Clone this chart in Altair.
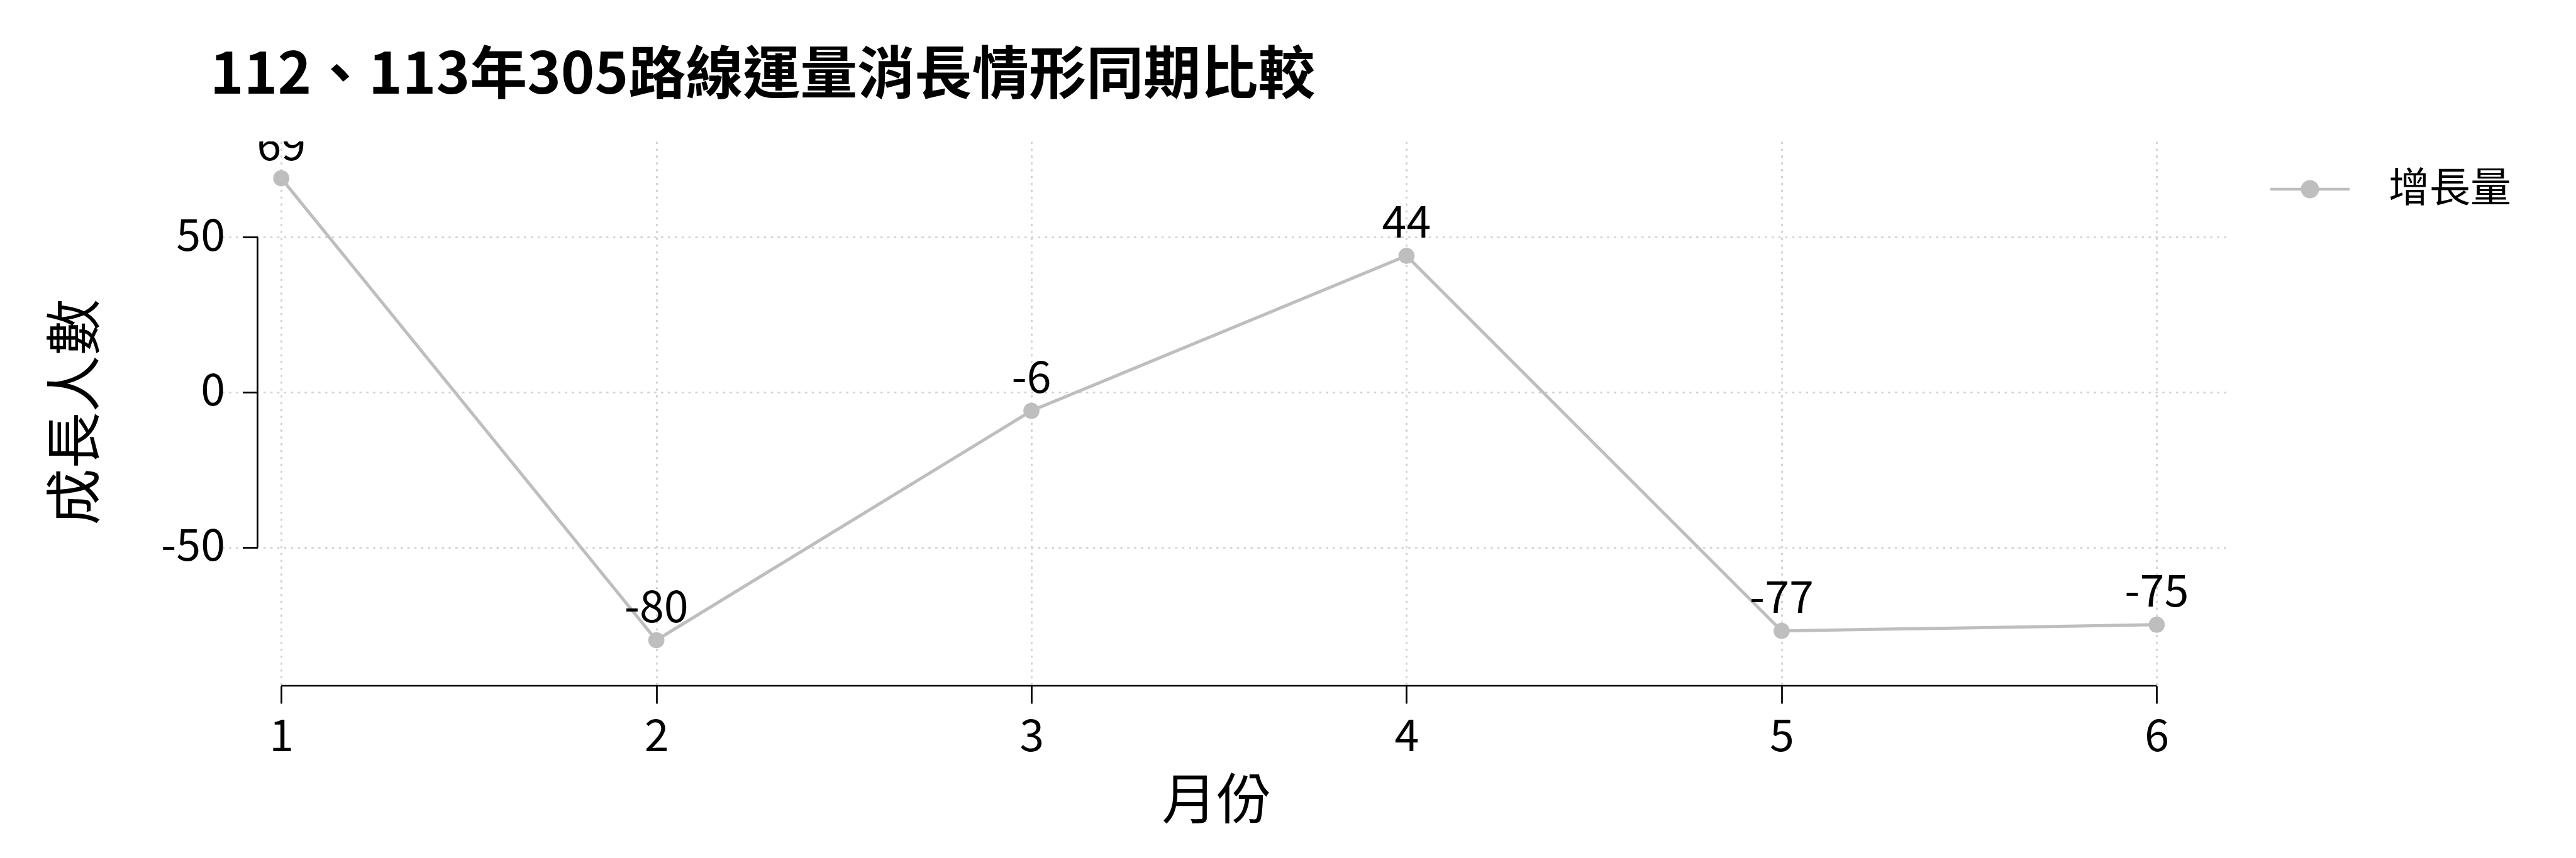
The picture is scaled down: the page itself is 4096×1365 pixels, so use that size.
import altair as alt
import pandas as pd

# ---- data ----
months = [1, 2, 3, 4, 5, 6]
growth = [69, -80, -6, 44, -77, -75]
series_name = "增長量"
x_ticks = [1, 2, 3, 4, 5, 6]
y_ticks = [-50, 0, 50]
title_text = "112、113年305路線運量消長情形同期比較"
x_title = "月份"
y_title = "成長人數"

FONT = "Noto Sans CJK TC"
COLOR = "#bebebe"
GRID = "#d0d0d0"
W, H = 3189, 866
PAD = {"left": 353, "top": 225, "right": 4096 - 353 - W, "bottom": 1365 - 225 - H}

df = pd.DataFrame({
    "month": months,
    "growth": growth,
    "label": [str(v) for v in growth],
    "series": [series_name] * len(months),
})
one = pd.DataFrame({"k": [0]})

x_scale = alt.Scale(domain=[0.842, 6.189], nice=False, zero=False)
y_scale = alt.Scale(domain=[-94.7, 80.9], nice=False, zero=False)

x_axis = alt.Axis(
    values=x_ticks, labelExpr="'' + datum.value", title=x_title,
    domain=False, grid=True, gridColor=GRID, gridDash=[3.6, 7.3], gridWidth=2.7,
    ticks=True, tickSize=28, tickWidth=2.7, tickColor="black",
    labelFont=FONT, labelFontSize=70, labelPadding=20, labelColor="black",
    titleFont=FONT, titleFontSize=87, titleFontWeight="normal", titleColor="black",
    titleX=1581, titleY=185, titleBaseline="middle", titleAlign="center",
)
y_axis = alt.Axis(
    values=y_ticks, labelExpr="'' + datum.value", title=y_title, offset=-56.5,
    domain=False, grid=True, gridColor=GRID, gridDash=[3.6, 7.3], gridWidth=2.7,
    ticks=True, tickSize=24, tickWidth=2.7, tickColor="black",
    labelFont=FONT, labelFontSize=70, labelPadding=28, labelColor="black",
    titleFont=FONT, titleFontSize=90, titleFontWeight="normal", titleColor="black",
    titleAngle=270, titleX=-287, titleY=430, titleBaseline="middle", titleAlign="center",
)

legend_symbol = (
    "M-1,-0.035H-0.225V0.035H-1Z"
    "M0.225,-0.035H1V0.035H0.225Z"
    "M0.23,0A0.23,0.23,0,1,1,-0.23,0A0.23,0.23,0,1,1,0.23,0Z"
)

base = alt.Chart(df)

line = base.mark_line(color=COLOR, strokeWidth=5).encode(
    x=alt.X("month:Q", scale=x_scale, axis=x_axis),
    y=alt.Y("growth:Q", scale=y_scale, axis=y_axis),
)

points = base.mark_circle(size=660, opacity=1).encode(
    x=alt.X("month:Q", scale=x_scale),
    y=alt.Y("growth:Q", scale=y_scale),
    color=alt.Color(
        "series:N",
        scale=alt.Scale(domain=[series_name], range=[COLOR]),
        legend=alt.Legend(
            title=None, orient="none", legendX=3257, legendY=13,
            symbolType=legend_symbol, symbolSize=15876, symbolStrokeWidth=0,
            symbolOpacity=1, labelFont=FONT, labelFontSize=65, labelColor="black",
            labelOffset=62, labelLimit=1000, padding=0,
        ),
    ),
)

labels = base.mark_text(
    dy=-29, fontSize=70, font=FONT, baseline="alphabetic", align="center",
    color="black", clip=True,
).encode(
    x=alt.X("month:Q", scale=x_scale),
    y=alt.Y("growth:Q", scale=y_scale),
    text="label:N",
)

y_spine = alt.Chart(one).mark_rule(color="black", strokeWidth=2.7).encode(
    x=alt.value(56.5),
    y=alt.datum(min(y_ticks)),
    y2=alt.datum(max(y_ticks)),
)
x_spine = alt.Chart(one).mark_rule(color="black", strokeWidth=2.7).encode(
    x=alt.datum(min(x_ticks)),
    x2=alt.datum(max(x_ticks)),
    y=alt.value(H),
)

chart = alt.layer(line, points, labels, y_spine, x_spine).properties(
    width=W, height=H,
    autosize=alt.AutoSizeParams(type="none"),
    padding=PAD,
    background="white",
    title=alt.TitleParams(
        title_text, anchor="start", font=FONT, fontSize=91, fontWeight="bold",
        color="black", offset=81, baseline="alphabetic", dx=-19, dy=96, frame="group",
    ),
).configure_view(stroke=None)

chart.save("out.html", embed_options={"renderer": "svg", "actions": False})
